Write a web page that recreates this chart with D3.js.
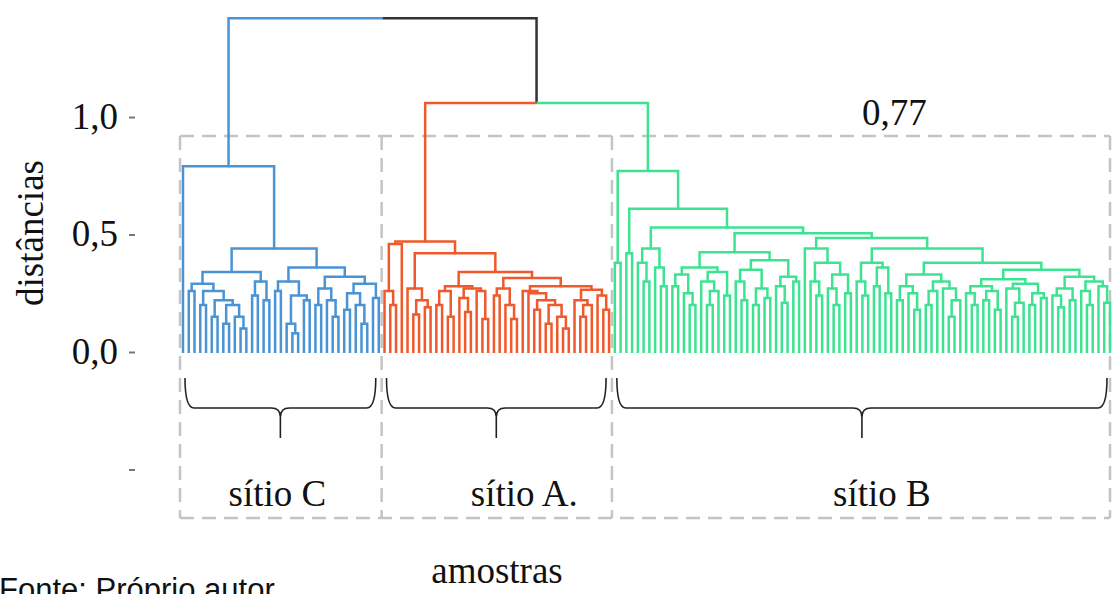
<!DOCTYPE html>
<meta charset="utf-8">
<head>
    <script type="text/javascript" src="https://cdnjs.cloudflare.com/ajax/libs/d3/7.8.5/d3.min.js"></script>
    <style>
        body { margin: 0; background: #fff; }
        svg text { font-family: "Liberation Serif", "Times New Roman", serif; fill: #111; }
        .fonte { font-family: "Liberation Sans", Arial, sans-serif; }
    </style>
    <title>Dendrograma das amostras</title>
</head>
<body>
<script>
    // clusters written as [merge height, left, right]; 0 = one sample (leaf)
    var siteC = [0.79, 0,
        [0.44,
            [0.34,
                [0.29, [0.26, 0, 0], [0.26, [0.2, 0, 0], [0.22, [0.15, 0, 0], [0.2, [0.12, 0, 0], [0.15, 0, [0.1, 0, 0]]]]]],
                [0.3, [0.24, 0, 0], [0.22, 0, 0]]],
            [0.36,
                [0.3, [0.26, 0, 0], [0.24, [0.12, 0, [0.08, 0, 0]], [0.22, 0, 0]]],
                [0.32,
                    [0.27, [0.2, 0, 0], [0.22, 0, [0.15, 0, 0]]],
                    [0.29, [0.25, [0.18, 0, 0], [0.2, 0, [0.12, 0, 0]]], [0.23, 0, 0]]]]]];

    var siteA = [0.47,
        [0.46, [0.26, 0, [0.2, 0, 0]], 0],
        [0.42,
            [0.27, 0, [0.22, [0.16, 0, 0], [0.19, 0, 0]]],
            [0.34,
                [0.28, [0.26, [0.2, 0, 0], [0.15, 0, 0]], [0.27, [0.23, 0, [0.17, 0, 0]], [0.26, 0, [0.14, 0, 0]]]],
                [0.315,
                    [0.27, [0.24, 0, 0], [0.2, 0, [0.14, 0, 0]]],
                    [0.28,
                        [0.26, 0, [0.25, 0, [0.22, [0.18, 0, 0], [0.2, [0.12, 0, 0], [0.15, 0, [0.1, 0, 0]]]]]],
                        [0.265, [0.22, 0, [0.2, [0.15, 0, 0], 0]], [0.24, 0, [0.18, 0, 0]]]]]]]];

    var siteB = [0.77, [0.38, 0, 0],
        [0.61, [0.42, 0, 0],
            [0.53,
                [0.44, [0.38, 0, [0.3, 0, 0]], [0.36, 0, [0.28, 0, 0]]],
                [0.505,
                    [0.425,
                        [0.36, [0.33, [0.28, 0, 0], [0.25, 0, [0.2, 0, 0]]], [0.34, [0.3, 0, [0.26, [0.2, 0, 0], 0]], [0.24, 0, 0]]],
                        [0.39, [0.35, [0.3, 0, [0.22, 0, 0]], [0.27, [0.2, 0, 0], [0.23, 0, 0]]], [0.32, [0.28, 0, [0.21, 0, 0]], [0.3, 0, 0]]]],
                    [0.485,
                        [0.44, 0, [0.38, [0.3, 0, [0.24, 0, 0]], [0.33, [0.27, 0, [0.2, 0, 0]], [0.25, 0, 0]]]],
                        [0.44,
                            [0.38, [0.3, 0, [0.24, 0, 0]], [0.36, [0.28, 0, 0], [0.25, 0, 0]]],
                            [0.38,
                                [0.33, [0.28, [0.22, 0, 0], [0.25, 0, [0.18, 0, 0]]], [0.3, [0.26, [0.2, 0, 0], 0], [0.27, 0, [0.22, [0.15, 0, 0], 0]]]],
                                [0.35,
                                    [0.31, [0.28, [0.25, 0, [0.2, 0, 0]], [0.26, [0.22, 0, 0], [0.18, 0, 0]]], [0.29, [0.27, 0, [0.21, [0.15, 0, 0], 0]], [0.25, [0.2, 0, 0], [0.23, 0, 0]]]],
                                    [0.32, [0.27, [0.24, 0, [0.19, 0, 0]], [0.22, 0, 0]], [0.3, [0.26, 0, [0.2, 0, 0]], [0.28, 0, [0.21, 0, 0]]]]]]]]]]]];

    var mergeAB = 1.06;      // sítio A + sítio B
    var mergeAll = 1.42;     // top of the tree
    var sites = [siteC, siteA, siteB];
    var siteNames = ["sítio C", "sítio A.", "sítio B"];
    var siteColors = ["#4a93d4", "#f0592b", "#3ee391"];
    var mixedColor = "#333";
    var yTicks = [-0.5, 0, 0.5, 1];
    var yTickLabels = ["", "0,0", "0,5", "1,0"];
    var cutLabel = "0,77";
    var xTitle = "amostras", yTitle = "distâncias", source = "Fonte: Próprio autor";

    var width = 1113, height = 594;
    var fontSize = "37px";

    var svg = d3.select("body").append("svg")
        .attr("width", width)
        .attr("height", height);

    var tree = [mergeAll, siteC, [mergeAB, siteA, siteB]];
    var root = d3.hierarchy(tree, d => Array.isArray(d) ? d.slice(1) : null);
    var mergeHeight = d => Array.isArray(d.data) ? d.data[0] : 0;

    // tag every node with its site, nodes holding several sites stay -1
    root.each(d => d.site = -1);
    root.each(function (d) {
        var i = sites.indexOf(d.data);
        if (i >= 0) d.each(n => n.site = i);
    });

    d3.cluster().size([1, 1]).separation(() => 1)(root);
    var leaves = root.leaves();

    var x = d3.scaleLinear()
        .domain([leaves[0].x, leaves[leaves.length - 1].x])
        .range([183, 1110]);
    var y = d3.scaleLinear()
        .domain([0, 1])
        .range([352, 117]);

    // dashed boxes around each site
    var boxTop = 136, boxBottom = 518;
    var bounds = [180];
    for (var i = 0; i < sites.length - 1; i++) {
        var a = leaves.filter(d => d.site === i), b = leaves.filter(d => d.site === i + 1);
        bounds.push((x(a[a.length - 1].x) + x(b[0].x)) / 2);
    }
    bounds.push(1110);
    var boxes = svg.append("g")
        .attr("fill", "none")
        .attr("stroke", "#c4c4c4")
        .attr("stroke-width", 2.5)
        .attr("stroke-dasharray", "14,8");
    boxes.append("path")
        .attr("d", `M${bounds[0]},${boxTop}H${bounds[3]}M${bounds[0]},${boxBottom}H${bounds[3]}`);
    boxes.selectAll("line")
        .data(bounds)
        .enter().append("line")
        .attr("x1", d => d).attr("x2", d => d)
        .attr("y1", boxTop).attr("y2", boxBottom);

    // dendrogram links, each coloured by the child it leads to
    svg.append("g")
        .attr("fill", "none")
        .attr("stroke-width", 2.5)
        .selectAll("path")
        .data(root.descendants().slice(1))
        .enter().append("path")
        .attr("stroke", d => d.site >= 0 ? siteColors[d.site] : mixedColor)
        .attr("d", d => `M${x(d.x)},${y(mergeHeight(d)) + 1}V${y(mergeHeight(d.parent))}H${x(d.parent.x)}`);

    // y axis
    var yAxis = svg.append("g")
        .attr("transform", "translate(135,0)")
        .call(d3.axisLeft(y)
            .tickValues(yTicks)
            .tickSize(6)
            .tickPadding(11)
            .tickFormat((d, i) => yTickLabels[i]));
    yAxis.select(".domain").remove();
    yAxis.selectAll(".tick line").attr("stroke", "#777").attr("stroke-width", 2);
    yAxis.selectAll(".tick text")
        .style("font-family", "'Liberation Serif', serif")
        .style("font-size", fontSize)
        .attr("fill", "#111")
        .attr("dy", "0.3em");

    svg.append("text")
        .attr("transform", "translate(43,233) rotate(-90)")
        .attr("text-anchor", "middle")
        .style("font-size", fontSize)
        .text(yTitle);

    // braces under each site
    function brace(x1, x2, yTop, yMid, yTip) {
        var xm = (x1 + x2) / 2, r = 9;
        return `M${x1},${yTop}Q${x1},${yMid} ${x1 + r},${yMid}H${xm - r}Q${xm},${yMid} ${xm},${yMid + r}V${yTip}` +
            `M${x2},${yTop}Q${x2},${yMid} ${x2 - r},${yMid}H${xm + r}Q${xm},${yMid} ${xm},${yMid + r}`;
    }
    var labelShift = [-3, 28, 20];
    sites.forEach(function (s, i) {
        var l = leaves.filter(d => d.site === i);
        var x1 = x(l[0].x) + 2, x2 = Math.min(x(l[l.length - 1].x) - 3, 1108);
        svg.append("path")
            .attr("d", brace(x1, x2, 378, 408, 438))
            .attr("fill", "none")
            .attr("stroke", "#222")
            .attr("stroke-width", 1.6);
        svg.append("text")
            .attr("x", (x1 + x2) / 2 + labelShift[i])
            .attr("y", 506)
            .attr("text-anchor", "middle")
            .style("font-size", fontSize)
            .text(siteNames[i]);
    });

    svg.append("text")
        .attr("x", 862).attr("y", 125)
        .style("font-size", fontSize)
        .text(cutLabel);

    svg.append("text")
        .attr("x", 497).attr("y", 583)
        .attr("text-anchor", "middle")
        .style("font-size", fontSize)
        .text(xTitle);

    svg.append("text")
        .attr("class", "fonte")
        .attr("x", -1).attr("y", 600)
        .style("font-size", "31px")
        .text(source);
</script>
</body>
</html>
